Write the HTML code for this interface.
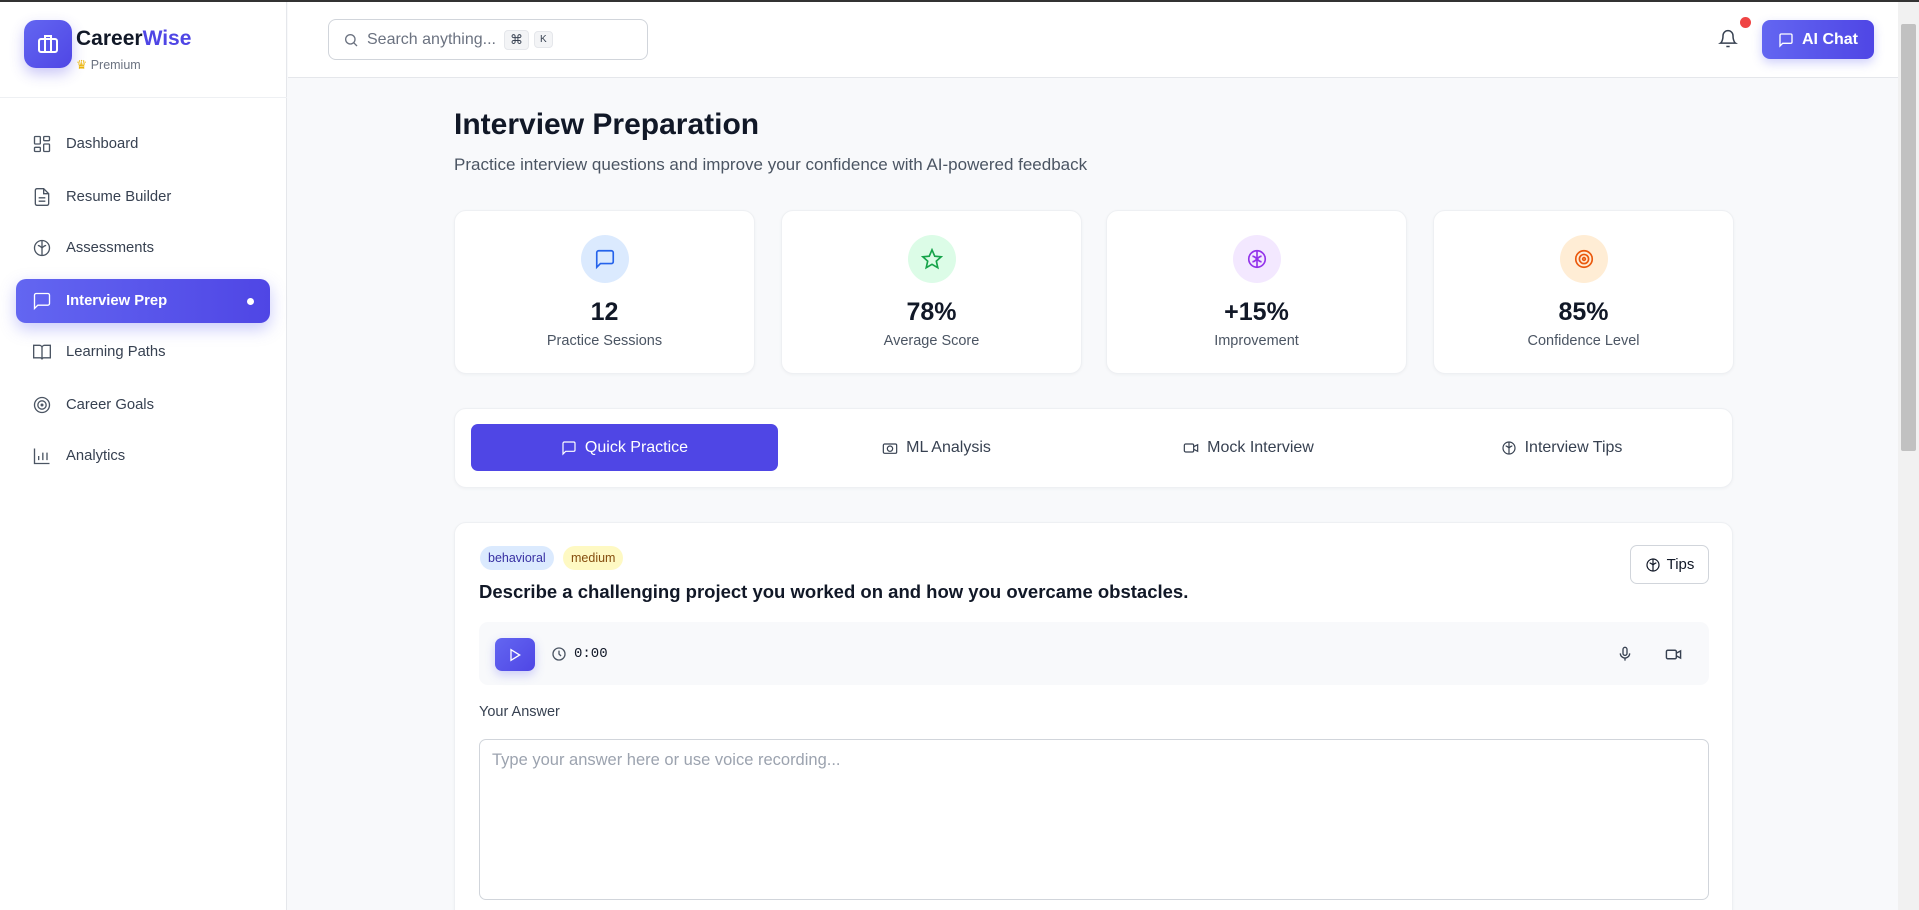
<!DOCTYPE html>
<html><head><meta charset="utf-8"><style>
*{box-sizing:border-box;margin:0;padding:0}
html{width:1919px;height:910px;overflow:hidden}
body{width:1919px;height:910px;overflow:hidden;background:#f8f9fb;font-family:"Liberation Sans",sans-serif;color:#111827;position:relative;border-top:2px solid #333}
.abs{position:absolute}
.side{left:0;top:0;width:287px;height:910px;background:#fff;border-right:1px solid #e5e7eb}
.nav{left:16px;width:254px;height:44px;border-radius:10px;display:flex;align-items:center;padding-left:16px;font-size:14.8px;color:#374151}
.nav svg{width:20px;height:20px;margin-right:14px;fill:none;stroke:#4b5563;stroke-width:1.6}
.card{background:#fff;border:1px solid #eef0f3;border-radius:12px;box-shadow:0 1px 3px rgba(0,0,0,.04)}
.stat{top:208px;width:301px;height:164px;text-align:center}
.circ{width:48px;height:48px;border-radius:50%;margin:24px auto 0;display:flex;align-items:center;justify-content:center}
.circ svg{width:22px;height:22px;fill:none;stroke-width:1.8}
.num{font-size:25px;font-weight:bold;margin-top:15px}
.lbl{font-size:14.5px;color:#4b5563;margin-top:6px}
.tab{top:422px;height:47px;display:flex;align-items:center;justify-content:center;font-size:16px;color:#374151;width:307px}
.tab svg{width:16px;height:16px;margin-right:8px;fill:none;stroke:currentColor;stroke-width:1.8}
</style></head><body>
<div class="abs side">
 <div class="abs" style="left:24px;top:18px;width:48px;height:48px;border-radius:12px;background:linear-gradient(135deg,#6366f1,#4f46e5);box-shadow:0 6px 14px rgba(79,70,229,.3);display:flex;align-items:center;justify-content:center"><svg width="24" height="24" viewBox="0 0 24 24" fill="none" stroke="#fff" stroke-width="2"><rect x="3" y="7" width="18" height="13" rx="2"/><path d="M9 7V4h6v3M9 7v13M15 7v13"/></svg></div>
 <div class="abs" style="left:76px;top:25px;font-size:21px;font-weight:bold">Career<span style="color:#4f46e5">Wise</span></div>
 <div class="abs" style="left:76px;top:55px;font-size:12.5px;color:#6b7280"><span style="color:#eab308">♛</span> Premium</div>
 <div class="abs" style="left:0;top:95px;width:287px;border-top:1px solid #eef0f3"></div>
 <div class="abs nav" style="top:120px"><svg viewBox="0 0 24 24"><rect x="3" y="3" width="7" height="9" rx="1"/><rect x="14" y="3" width="7" height="5" rx="1"/><rect x="14" y="12" width="7" height="9" rx="1"/><rect x="3" y="16" width="7" height="5" rx="1"/></svg>Dashboard</div>
 <div class="abs nav" style="top:173px"><svg viewBox="0 0 24 24"><path d="M14 2H6a2 2 0 0 0-2 2v16a2 2 0 0 0 2 2h12a2 2 0 0 0 2-2V8z M14 2v6h6M8 13h8M8 17h8"/></svg>Resume Builder</div>
 <div class="abs nav" style="top:224px"><svg viewBox="0 0 24 24"><circle cx="12" cy="12" r="9"/><path d="M12 3v18M7 9c2 0 3 1 5 3M17 9c-2 0-3 1-5 3"/></svg>Assessments</div>
 <div class="abs nav" style="top:277px;background:linear-gradient(90deg,#6366f1,#4f46e5);color:#fff;font-weight:bold;box-shadow:0 6px 16px rgba(99,102,241,.35)"><svg viewBox="0 0 24 24" style="stroke:#fff"><path d="M21 15a2 2 0 0 1-2 2H7l-4 4V5a2 2 0 0 1 2-2h14a2 2 0 0 1 2 2z"/></svg>Interview Prep<span style="position:absolute;right:16px;top:19px;width:7px;height:7px;border-radius:50%;background:#fff"></span></div>
 <div class="abs nav" style="top:328px"><svg viewBox="0 0 24 24"><path d="M2 4h7a3 3 0 0 1 3 3v14a2 2 0 0 0-2-2H2zM22 4h-7a3 3 0 0 0-3 3v14a2 2 0 0 1 2-2h8z"/></svg>Learning Paths</div>
 <div class="abs nav" style="top:381px"><svg viewBox="0 0 24 24"><circle cx="12" cy="12" r="9"/><circle cx="12" cy="12" r="5"/><circle cx="12" cy="12" r="1"/></svg>Career Goals</div>
 <div class="abs nav" style="top:432px"><svg viewBox="0 0 24 24"><path d="M3 3v18h18M8 17v-5M13 17V8M18 17v-9"/></svg>Analytics</div>
</div>
<div class="abs" style="left:288px;top:0;width:1610px;height:76px;background:#fff;border-bottom:1px solid #e5e7eb"></div>
<div class="abs" style="left:328px;top:17px;width:320px;height:41px;border:1px solid #d1d5db;border-radius:8px;background:#fff;display:flex;align-items:center;padding-left:14px;font-size:16px;color:#6b7280">
 <svg width="16" height="16" viewBox="0 0 24 24" fill="none" stroke="#6b7280" stroke-width="2"><circle cx="11" cy="11" r="7"/><path d="M21 21l-5-5"/></svg>
 <span style="margin-left:8px">Search anything...</span>
 <span style="margin-left:8px;background:#f3f4f6;border:1px solid #e5e7eb;border-radius:4px;padding:1px 5px;font-size:13px;color:#374151">⌘</span>
 <span style="margin-left:5px;background:#f3f4f6;border:1px solid #e5e7eb;border-radius:4px;padding:2px 5px;font-size:10px;color:#374151">K</span>
</div>
<svg class="abs" style="left:1718px;top:27px" width="20" height="20" viewBox="0 0 24 24" fill="none" stroke="#374151" stroke-width="1.8"><path d="M6 8a6 6 0 0 1 12 0c0 7 3 9 3 9H3s3-2 3-9M10 21h4"/></svg>
<div class="abs" style="left:1740px;top:15px;width:11px;height:11px;border-radius:50%;background:#ef4444"></div>
<div class="abs" style="left:1762px;top:18px;width:112px;height:39px;border-radius:8px;background:linear-gradient(90deg,#6366f1,#4f46e5);color:#fff;font-weight:bold;font-size:16px;display:flex;align-items:center;justify-content:center;box-shadow:0 4px 10px rgba(99,102,241,.3)"><svg width="16" height="16" viewBox="0 0 24 24" fill="none" stroke="#fff" stroke-width="2" style="margin-right:8px"><path d="M21 15a2 2 0 0 1-2 2H7l-4 4V5a2 2 0 0 1 2-2h14a2 2 0 0 1 2 2z"/></svg>AI Chat</div>
<div class="abs" style="left:1898px;top:0;width:21px;height:910px;background:#f1f1f1"><div style="margin:22px 0 0 3px;width:15px;height:427px;background:#c1c1c1;border-radius:2px"></div></div>

<div class="abs" style="left:454px;top:106px;font-size:30px;font-weight:bold">Interview Preparation</div>
<div class="abs" style="left:454px;top:153px;font-size:17px;color:#4b5563">Practice interview questions and improve your confidence with AI-powered feedback</div>

<div class="abs card stat" style="left:454px"><div class="circ" style="background:#dbeafe"><svg viewBox="0 0 24 24" stroke="#2563eb"><path d="M21 15a2 2 0 0 1-2 2H7l-4 4V5a2 2 0 0 1 2-2h14a2 2 0 0 1 2 2z"/></svg></div><div class="num">12</div><div class="lbl">Practice Sessions</div></div>
<div class="abs card stat" style="left:781px"><div class="circ" style="background:#dcfce7"><svg viewBox="0 0 24 24" stroke="#16a34a"><path d="M12 2l3 7 7 .6-5.3 4.7 1.6 7.2L12 17.8 5.7 21.5l1.6-7.2L2 9.6 9 9z"/></svg></div><div class="num">78%</div><div class="lbl">Average Score</div></div>
<div class="abs card stat" style="left:1106px"><div class="circ" style="background:#f3e8ff"><svg viewBox="0 0 24 24" stroke="#9333ea"><circle cx="12" cy="12" r="9"/><path d="M12 3v18M7 9c2 0 3 1 5 3M17 9c-2 0-3 1-5 3M7 15c2 0 3-1 5-3M17 15c-2 0-3-1-5-3"/></svg></div><div class="num">+15%</div><div class="lbl">Improvement</div></div>
<div class="abs card stat" style="left:1433px"><div class="circ" style="background:#ffedd5"><svg viewBox="0 0 24 24" stroke="#ea580c"><circle cx="12" cy="12" r="9"/><circle cx="12" cy="12" r="5"/><circle cx="12" cy="12" r="1.5"/></svg></div><div class="num">85%</div><div class="lbl">Confidence Level</div></div>

<div class="abs card" style="left:454px;top:406px;width:1279px;height:80px"></div>
<div class="abs tab" style="left:471px;background:#4f46e5;color:#fff;border-radius:7px"><svg viewBox="0 0 24 24"><path d="M21 15a2 2 0 0 1-2 2H7l-4 4V5a2 2 0 0 1 2-2h14a2 2 0 0 1 2 2z"/></svg>Quick Practice</div>
<div class="abs tab" style="left:783px"><svg viewBox="0 0 24 24"><rect x="2" y="6" width="20" height="14" rx="2"/><circle cx="12" cy="13" r="4"/></svg>ML Analysis</div>
<div class="abs tab" style="left:1095px"><svg viewBox="0 0 24 24"><rect x="2" y="6" width="14" height="12" rx="2"/><path d="M16 10l6-3v10l-6-3"/></svg>Mock Interview</div>
<div class="abs tab" style="left:1408px"><svg viewBox="0 0 24 24"><circle cx="12" cy="12" r="9"/><path d="M12 3v18M7 9c2 0 3 1 5 3M17 9c-2 0-3 1-5 3"/></svg>Interview Tips</div>

<div class="abs card" style="left:454px;top:520px;width:1279px;height:400px"></div>
<div class="abs" style="left:480px;top:544px;height:24px;padding:0 8px;line-height:24px;border-radius:12px;background:#dbeafe;color:#3730a3;font-size:12.5px">behavioral</div>
<div class="abs" style="left:563px;top:544px;height:24px;padding:0 8px;line-height:24px;border-radius:12px;background:#fef9c3;color:#854d0e;font-size:12.5px">medium</div>
<div class="abs" style="left:1630px;top:543px;width:79px;height:39px;border:1px solid #d1d5db;border-radius:7px;background:#fff;display:flex;align-items:center;justify-content:center;font-size:15px;color:#111827"><svg width="16" height="16" viewBox="0 0 24 24" fill="none" stroke="#111827" stroke-width="1.8" style="margin-right:6px"><circle cx="12" cy="12" r="9"/><path d="M12 3v18M7 9c2 0 3 1 5 3M17 9c-2 0-3 1-5 3"/></svg>Tips</div>
<div class="abs" style="left:479px;top:579px;font-size:18.5px;font-weight:bold;color:#111827">Describe a challenging project you worked on and how you overcame obstacles.</div>
<div class="abs" style="left:479px;top:620px;width:1230px;height:63px;background:#f8f9fb;border-radius:9px"></div>
<div class="abs" style="left:495px;top:636px;width:40px;height:33px;border-radius:7px;background:linear-gradient(135deg,#6366f1,#4f46e5);box-shadow:0 4px 10px rgba(99,102,241,.3);display:flex;align-items:center;justify-content:center"><svg width="16" height="16" viewBox="0 0 24 24" fill="none" stroke="#fff" stroke-width="2"><path d="M6 4l13 8-13 8z"/></svg></div>
<svg class="abs" style="left:551px;top:644px" width="16" height="16" viewBox="0 0 24 24" fill="none" stroke="#4b5563" stroke-width="2"><circle cx="12" cy="12" r="9"/><path d="M12 7v5l3 3"/></svg>
<div class="abs" style="left:574px;top:644px;font-family:'Liberation Mono',monospace;font-size:14px">0:00</div>
<svg class="abs" style="left:1617px;top:644px" width="16" height="16" viewBox="0 0 24 24" fill="none" stroke="#374151" stroke-width="2"><rect x="9" y="2" width="6" height="12" rx="3"/><path d="M5 11a7 7 0 0 0 14 0M12 18v4"/></svg>
<svg class="abs" style="left:1665px;top:644px" width="17" height="17" viewBox="0 0 24 24" fill="none" stroke="#374151" stroke-width="2"><rect x="2" y="6" width="14" height="12" rx="2"/><path d="M16 10l6-3v10l-6-3"/></svg>
<div class="abs" style="left:479px;top:702px;font-size:14.5px;color:#374151">Your Answer</div>
<div class="abs" style="left:479px;top:737px;width:1230px;height:161px;border:1px solid #d1d5db;border-radius:7px;background:#fff;padding:11px 12px;font-size:16.5px;color:#9ca3af">Type your answer here or use voice recording...</div>
</body></html>
